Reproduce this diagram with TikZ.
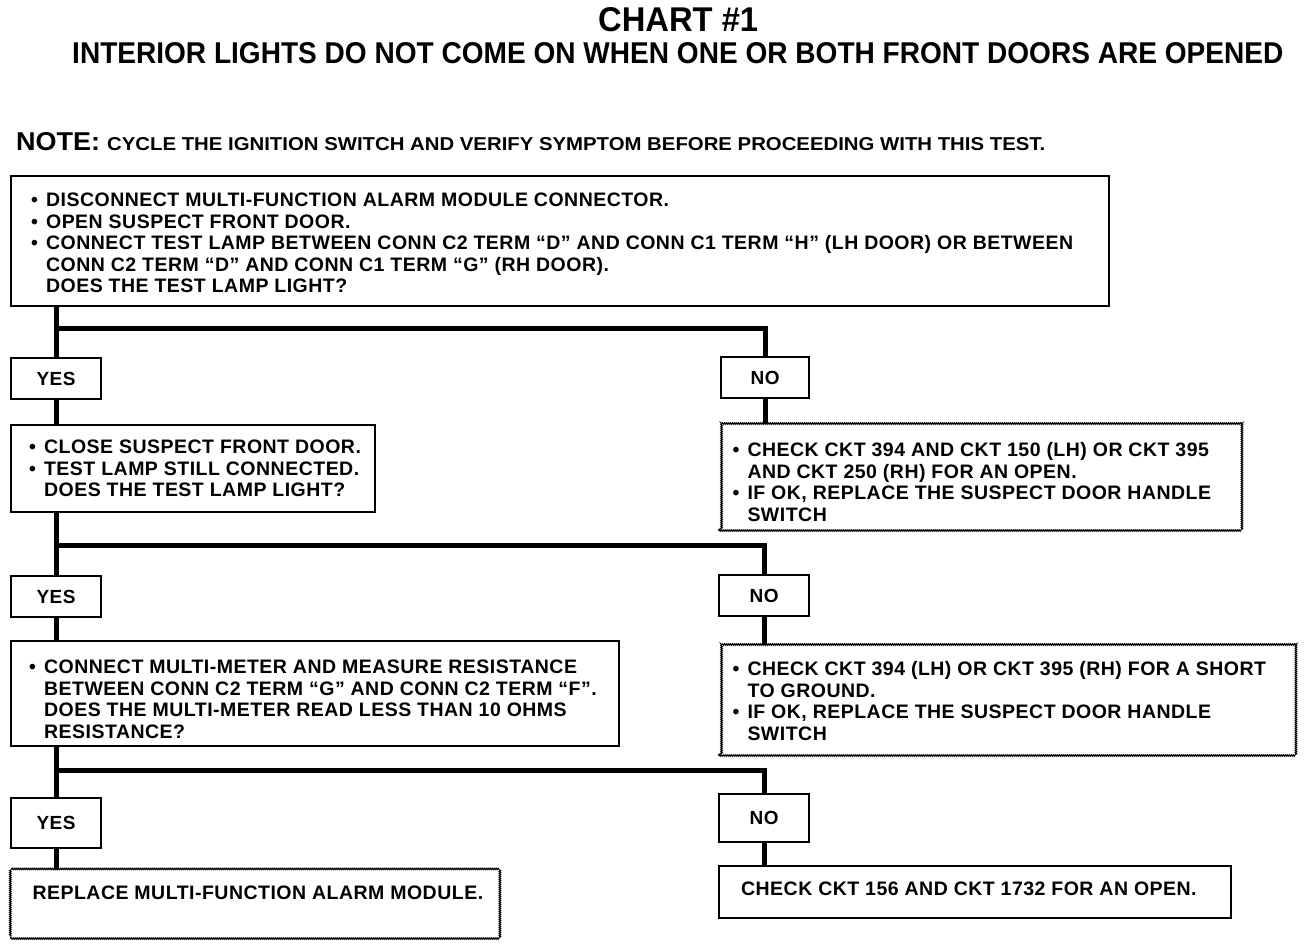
\documentclass[tikz,border=0pt]{standalone}
\usepackage{graphicx}
\usepackage{fontspec}
\setmainfont{Liberation Sans}
\usetikzlibrary{decorations.pathmorphing}
\newlength{\bw}\setlength{\bw}{15pt}
\newcommand{\li}[1]{\mbox{\makebox[\bw][l]{•}#1}}
\newcommand{\lc}[1]{\mbox{\hspace*{\bw}#1}}
% width, height, top pad, left pad, content
\newcommand{\bt}[5]{\parbox[c][#2pt][t]{#1pt}{\raggedright\leftskip=#4pt\relax\fontsize{19.5}{21.5}\selectfont\bfseries\addfontfeature{LetterSpace=2.5}\vspace*{#3pt}#5}}
\tikzset{
  solidbox/.style={draw, line width=2.2pt, inner sep=0pt, anchor=north west},
  dotbox/.style={draw, line width=1pt, decorate, decoration={snake, segment length=2pt, amplitude=0.8pt}, inner sep=0pt, anchor=north west},
  ansbox/.style={draw, line width=2.2pt, inner sep=0pt, anchor=north west, minimum width=90pt, font=\bfseries\fontsize{19}{22}\selectfont\addfontfeature{LetterSpace=2.5}},
  conn/.style={line width=5pt},
  hdr/.style={inner sep=0pt, anchor=base west}
}
\begin{document}
\begin{tikzpicture}[x=1pt,y=-1pt]
\useasboundingbox (0,0) rectangle (1312,946);
% headings
\node[hdr] (title) at (598,31) {\resizebox{160pt}{24pt}{\bfseries CHART \#1}};
\node[hdr] (subtitle) at (72,63) {\resizebox{1211pt}{21pt}{\bfseries INTERIOR LIGHTS DO NOT COME ON WHEN ONE OR BOTH FRONT DOORS ARE OPENED}};
\node[hdr] (notelbl) at (16,150) {\resizebox{84pt}{18pt}{\bfseries NOTE:}};
\node[hdr] (note) at (107,150) {\resizebox{938pt}{13pt}{\bfseries CYCLE THE IGNITION SWITCH AND VERIFY SYMPTOM BEFORE PROCEEDING WITH THIS TEST.}};
% boxes
\node[solidbox] (box1) at (10,175) {\bt{1098}{130}{17}{20}{%
\li{DISCONNECT MULTI-FUNCTION ALARM MODULE CONNECTOR.}\\
\li{OPEN SUSPECT FRONT DOOR.}\\
\li{CONNECT TEST LAMP BETWEEN CONN C2 TERM “D” AND CONN C1 TERM “H” (LH DOOR) OR BETWEEN}\\
\lc{CONN C2 TERM “D” AND CONN C1 TERM “G” (RH DOOR).}\\
\lc{DOES THE TEST LAMP LIGHT?}}};
\node[ansbox, minimum height=41pt] (yes1) at (10,357) {YES};
\node[ansbox, minimum height=41pt, minimum width=88pt] (no1) at (720,356) {NO};
\node[solidbox] (box2) at (10,424) {\bt{364}{87}{15}{18}{%
\li{CLOSE SUSPECT FRONT DOOR.}\\
\li{TEST LAMP STILL CONNECTED.}\\
\lc{DOES THE TEST LAMP LIGHT?}}};
\node[dotbox] (box3) at (718,423) {\bt{522}{107}{19}{14}{%
\li{CHECK CKT 394 AND CKT 150 (LH) OR CKT 395}\\
\lc{AND CKT 250 (RH) FOR AN OPEN.}\\
\li{IF OK, REPLACE THE SUSPECT DOOR HANDLE}\\
\lc{SWITCH}}};
\node[ansbox, minimum height=41pt] (yes2) at (10,575) {YES};
\node[ansbox, minimum height=41pt] (no2) at (718,574) {NO};
\node[solidbox] (box4) at (10,640) {\bt{608}{105}{19}{18}{%
\li{CONNECT MULTI-METER AND MEASURE RESISTANCE}\\
\lc{BETWEEN CONN C2 TERM “G” AND CONN C2 TERM “F”.}\\
\lc{DOES THE MULTI-METER READ LESS THAN 10 OHMS}\\
\lc{RESISTANCE?}}};
\node[dotbox] (box5) at (718,644) {\bt{576}{111}{17}{14}{%
\li{CHECK CKT 394 (LH) OR CKT 395 (RH) FOR A SHORT}\\
\lc{TO GROUND.}\\
\li{IF OK, REPLACE THE SUSPECT DOOR HANDLE}\\
\lc{SWITCH}}};
\node[ansbox, minimum height=50pt] (yes3) at (10,797) {YES};
\node[ansbox, minimum height=48pt] (no3) at (718,793) {NO};
\node[dotbox] (box6) at (10,870) {\bt{488}{68}{15}{22}{REPLACE MULTI-FUNCTION ALARM MODULE.}};
\node[solidbox] (box7) at (718,865) {\bt{512}{52}{16}{22}{CHECK CKT 156 AND CKT 1732 FOR AN OPEN.}};
% junctions
\coordinate (j1) at (0,328);
\coordinate (j2) at (0,545);
\coordinate (j3) at (0,770);
% connectors
\draw[conn] (box1.south -| yes1.north) -- (yes1.north);
\draw[conn] (yes1.north |- j1) -| (no1.north);
\draw[conn] (yes1.south) -- (yes1.south |- box2.north);
\draw[conn] (no1.south) -- (no1.south |- box3.north);
\draw[conn] (box2.south -| yes2.north) -- (yes2.north);
\draw[conn] (yes2.north |- j2) -| (no2.north);
\draw[conn] (yes2.south) -- (yes2.south |- box4.north);
\draw[conn] (no2.south) -- (no2.south |- box5.north);
\draw[conn] (box4.south -| yes3.north) -- (yes3.north);
\draw[conn] (yes3.north |- j3) -| (no3.north);
\draw[conn] (yes3.south) -- (yes3.south |- box6.north);
\draw[conn] (no3.south) -- (no3.south |- box7.north);
\end{tikzpicture}
\end{document}
